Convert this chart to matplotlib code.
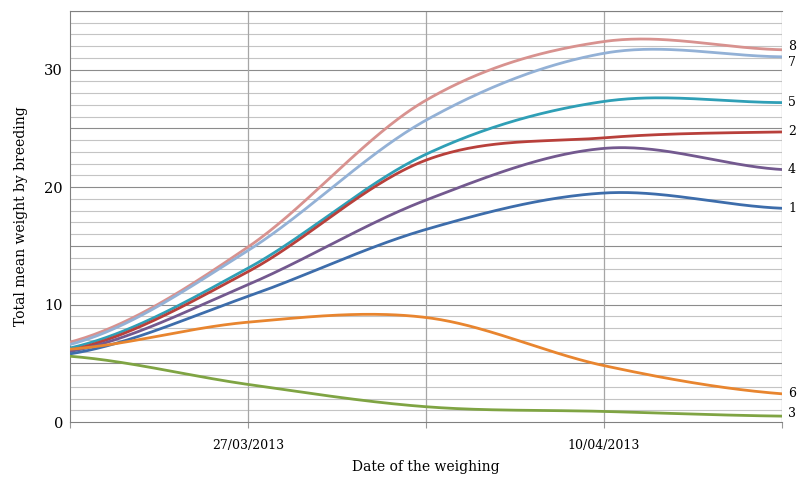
import numpy as np
import pandas as pd
import matplotlib
matplotlib.use('Agg')
import matplotlib.pyplot as plt
import matplotlib.dates as mdates

# weighing dates and mean weight per breeding
dates = pd.to_datetime(['2013-03-20', '2013-03-27', '2013-04-03', '2013-04-10', '2013-04-17'])
breeding = ['8', '7', '5', '2', '4', '1', '6', '3']
w8 = [6.8, 14.9, 27.4, 32.4, 31.7]
w7 = [6.6, 14.6, 25.7, 31.4, 31.1]
w5 = [6.3, 13.1, 22.8, 27.3, 27.2]
w2 = [6.1, 12.8, 22.3, 24.2, 24.7]
w4 = [6.0, 11.7, 18.9, 23.3, 21.5]
w1 = [5.8, 10.7, 16.4, 19.5, 18.2]
w6 = [6.2, 8.5, 8.9, 4.8, 2.4]
w3 = [5.6, 3.2, 1.3, 0.9, 0.5]
series = [w8, w7, w5, w2, w4, w1, w6, w3]
colors = ['#d8928f', '#93b1d6', '#2f9fb6', '#b8403b', '#73598f', '#3d6dab', '#e8852f', '#7fa443']
# label nudge in pixels so the end labels do not collide
nudge = [3, -6, 0, 0, 0, 0, 0, 3]


def smooth(x, y, n=60):
    # catmull-rom style smoothing, like the spreadsheet "smoothed line"
    x = np.asarray(x, float)
    y = np.asarray(y, float)
    yp = np.concatenate([[y[0]], y, [y[-1]]])
    xs, ys = [], []
    for i in range(len(x) - 1):
        t = np.linspace(0, 1, n)
        m0 = (yp[i + 2] - yp[i]) / 2
        m1 = (yp[i + 3] - yp[i + 1]) / 2
        h00 = 2*t**3 - 3*t**2 + 1
        h10 = t**3 - 2*t**2 + t
        h01 = -2*t**3 + 3*t**2
        h11 = t**3 - t**2
        xs.append(x[i] + t*(x[i+1] - x[i]))
        ys.append(h00*y[i] + h10*m0 + h01*y[i+1] + h11*m1)
    return np.concatenate(xs), np.concatenate(ys)


plt.rcParams['font.family'] = 'DejaVu Serif'
fig = plt.figure(figsize=(8.08, 4.78), dpi=100)
ax = fig.add_axes([70/808, 56/478, 712/808, 411/478])

xn = mdates.date2num(dates)
for vals, c, name, dy in zip(series, colors, breeding, nudge):
    sx, sy = smooth(xn, vals)
    ax.plot(sx, sy, color=c, lw=2.0, solid_capstyle='round', zorder=3)
    ax.annotate(name, (xn[-1], vals[-1]), xytext=(6, dy), textcoords='offset pixels',
                va='center', ha='left', fontsize=9, annotation_clip=False)

ax.set_xlim(xn[0], xn[-1])
ax.set_ylim(0, 35)
ax.set_xticks(xn)
ax.set_xticklabels(['', '27/03/2013', '', '10/04/2013', ''], fontsize=9)
ax.set_yticks([0, 10, 20, 30])
ax.set_yticks(np.arange(0, 36, 1), minor=True)
ax.tick_params(axis='y', which='both', length=0, labelsize=10.5, pad=5)
ax.tick_params(axis='x', length=4, color='#999999', pad=8)

for v in range(1, 36):
    col = '#8c8c8c' if v % 5 == 0 else '#c4c4c4'
    ax.axhline(v, color=col, lw=0.8, zorder=1)
for v in xn[1:]:
    ax.axvline(v, color='#a6a6a6', lw=0.9, zorder=1)

for s in ['top', 'left', 'bottom']:
    ax.spines[s].set_color('#808080')
ax.spines['right'].set_visible(False)

ax.set_xlabel('Date of the weighing', fontsize=10, labelpad=6)
ax.set_ylabel('Total mean weight by breeding', fontsize=10, labelpad=12)

fig.savefig('out.png', dpi=100)
